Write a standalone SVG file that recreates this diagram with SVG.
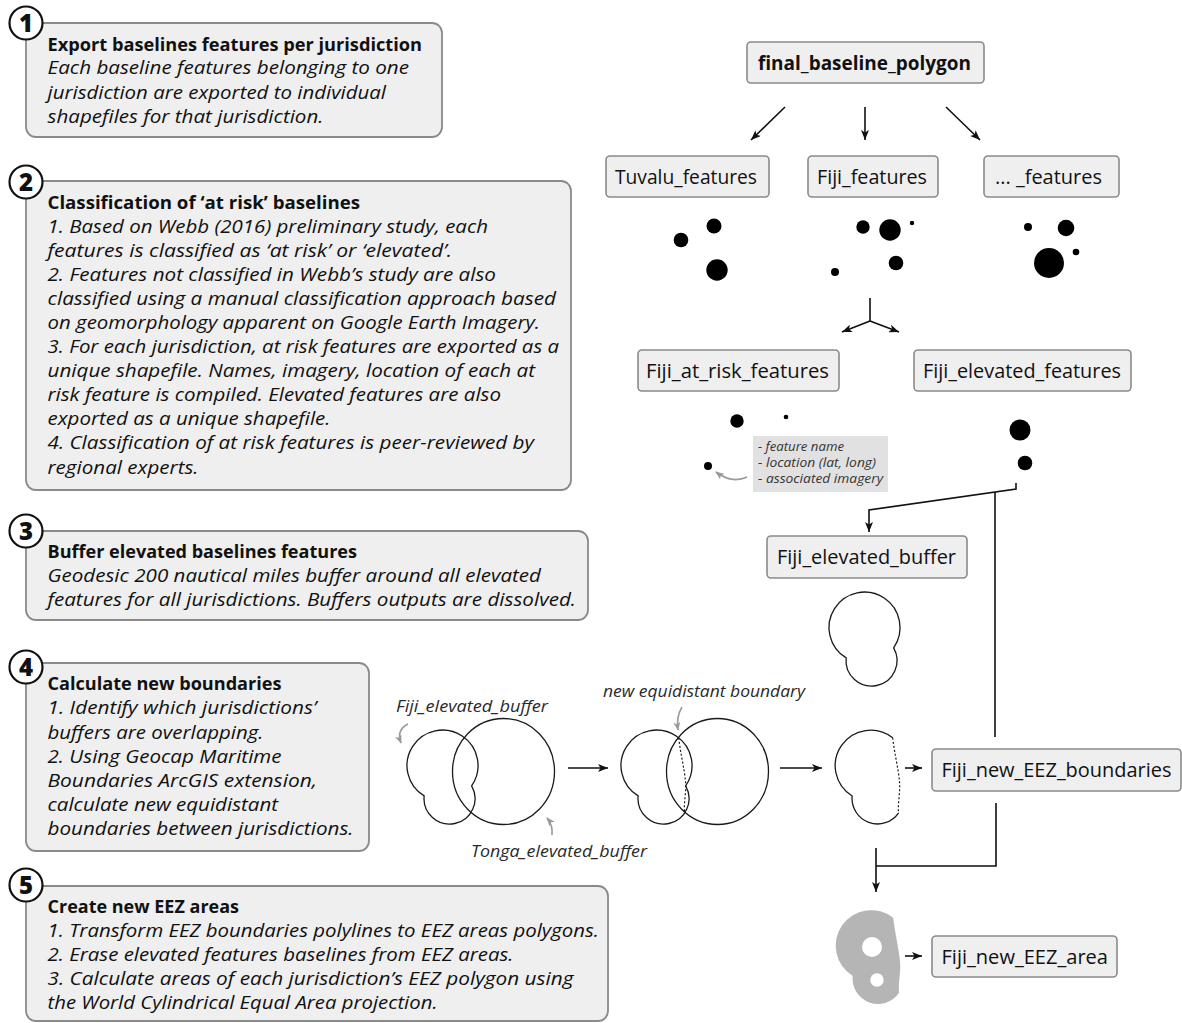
<svg xmlns="http://www.w3.org/2000/svg" width="1182" height="1023" viewBox="0 0 1182 1023">
  <defs>
    <style>
      .step { fill: #efefef; stroke: #8a8a8a; stroke-width: 1.8; }
      .node { fill: #efefef; stroke: #8a8a8a; stroke-width: 1.6; }
      .num-c { fill: #ffffff; stroke: #111111; stroke-width: 2.2; }
      .num { font-family: "Open Sans", "Liberation Sans", sans-serif; font-weight: 800; font-size: 24px; fill: #111111; text-anchor: middle; }
      .ttl { font-family: "Open Sans", "Liberation Sans", sans-serif; font-weight: 700; font-size: 18px; fill: #111111; }
      .txt { font-family: "Open Sans", "Liberation Sans", sans-serif; font-style: italic; font-weight: 500; font-size: 17.5px; fill: #111111; }
      .lbl { font-family: "Open Sans", "Liberation Sans", sans-serif; font-weight: 500; font-size: 20px; fill: #111111; }
      .lblb { font-family: "Open Sans", "Liberation Sans", sans-serif; font-weight: 700; font-size: 19px; fill: #111111; }
      .note { font-family: "Open Sans", "Liberation Sans", sans-serif; font-style: italic; font-size: 15.5px; fill: #2a2a2a; }
      .small { font-family: "Open Sans", "Liberation Sans", sans-serif; font-style: italic; font-size: 12px; fill: #333333; }
      .edge { fill: none; stroke: #111111; stroke-width: 1.6; }
      .hint { fill: none; stroke: #9a9a9a; stroke-width: 1.6; }
      .outline { fill: none; stroke: #1a1a1a; stroke-width: 1.3; }
      .cut { fill: none; stroke: #1a1a1a; stroke-width: 1.2; stroke-dasharray: 2 2; }
      .dot { fill: #000000; }
    </style>
    <marker id="ah" viewBox="0 0 10 8" refX="10" refY="4" markerWidth="10" markerHeight="8" markerUnits="userSpaceOnUse" orient="auto">
      <path d="M0,0 L10,4 L0,8 L2.5,4 Z" fill="#111111"/>
    </marker>
    <marker id="ahg" viewBox="0 0 10 8" refX="9" refY="4" markerWidth="9" markerHeight="7" markerUnits="userSpaceOnUse" orient="auto">
      <path d="M0,0 L10,4 L0,8 L2.5,4 Z" fill="#9a9a9a"/>
    </marker>
  </defs>

  <rect width="1182" height="1023" fill="#ffffff"/>

  <!-- Step 1 -->
  <g id="step1">
    <rect class="step" x="26" y="23" width="416" height="114" rx="10"/>
    <circle class="num-c" cx="26" cy="23" r="16.5"/>
    <text class="num" x="26" y="31.5">1</text>
    <text class="ttl" x="47.5" y="50.5" textLength="374.5" lengthAdjust="spacingAndGlyphs">Export baselines features per jurisdiction</text>
    <text class="txt" x="47.5" y="74" textLength="361.5" lengthAdjust="spacingAndGlyphs">Each baseline features belonging to one</text>
    <text class="txt" x="47.5" y="99" textLength="338.5" lengthAdjust="spacingAndGlyphs">jurisdiction are exported to individual</text>
    <text class="txt" x="47.5" y="123" textLength="276" lengthAdjust="spacingAndGlyphs">shapefiles for that jurisdiction.</text>
  </g>

  <!-- Step 2 -->
  <g id="step2">
    <rect class="step" x="26" y="181" width="545" height="309" rx="10"/>
    <circle class="num-c" cx="26" cy="182" r="16.5"/>
    <text class="num" x="26" y="190.5">2</text>
    <text class="ttl" x="47.5" y="208.5" textLength="312.5" lengthAdjust="spacingAndGlyphs">Classification of ‘at risk’ baselines</text>
    <text class="txt" x="47.5" y="232.5" textLength="440.5" lengthAdjust="spacingAndGlyphs">1. Based on Webb (2016) preliminary study, each</text>
    <text class="txt" x="47.5" y="256.6" textLength="404.5" lengthAdjust="spacingAndGlyphs">features is classified as ‘at risk’ or ‘elevated’.</text>
    <text class="txt" x="47.5" y="280.7" textLength="448.5" lengthAdjust="spacingAndGlyphs">2. Features not classified in Webb’s study are also</text>
    <text class="txt" x="47.5" y="304.8" textLength="508.5" lengthAdjust="spacingAndGlyphs">classified using a manual classification approach based</text>
    <text class="txt" x="47.5" y="328.9" textLength="492.5" lengthAdjust="spacingAndGlyphs">on geomorphology apparent on Google Earth Imagery.</text>
    <text class="txt" x="47.5" y="353" textLength="511.5" lengthAdjust="spacingAndGlyphs">3. For each jurisdiction, at risk features are exported as a</text>
    <text class="txt" x="47.5" y="377.1" textLength="487.5" lengthAdjust="spacingAndGlyphs">unique shapefile. Names, imagery, location of each at</text>
    <text class="txt" x="47.5" y="401.2" textLength="453.5" lengthAdjust="spacingAndGlyphs">risk feature is compiled. Elevated features are also</text>
    <text class="txt" x="47.5" y="425.3" textLength="283" lengthAdjust="spacingAndGlyphs">exported as a unique shapefile.</text>
    <text class="txt" x="47.5" y="449.4" textLength="486.5" lengthAdjust="spacingAndGlyphs">4. Classification of at risk features is peer-reviewed by</text>
    <text class="txt" x="47.5" y="473.5" textLength="151" lengthAdjust="spacingAndGlyphs">regional experts.</text>
  </g>

  <!-- Step 3 -->
  <g id="step3">
    <rect class="step" x="26" y="531" width="562" height="89" rx="10"/>
    <circle class="num-c" cx="26" cy="531" r="16.5"/>
    <text class="num" x="26" y="539.5">3</text>
    <text class="ttl" x="47.5" y="558" textLength="309.5" lengthAdjust="spacingAndGlyphs">Buffer elevated baselines features</text>
    <text class="txt" x="47.5" y="582" textLength="493.5" lengthAdjust="spacingAndGlyphs">Geodesic 200 nautical miles buffer around all elevated</text>
    <text class="txt" x="47.5" y="605.5" textLength="528.5" lengthAdjust="spacingAndGlyphs">features for all jurisdictions. Buffers outputs are dissolved.</text>
  </g>

  <!-- Step 4 -->
  <g id="step4">
    <rect class="step" x="26" y="663" width="343" height="188" rx="10"/>
    <circle class="num-c" cx="26" cy="667" r="16.5"/>
    <text class="num" x="26" y="675.5">4</text>
    <text class="ttl" x="47.5" y="690" textLength="234" lengthAdjust="spacingAndGlyphs">Calculate new boundaries</text>
    <text class="txt" x="47.5" y="714" textLength="269" lengthAdjust="spacingAndGlyphs">1. Identify which jurisdictions’</text>
    <text class="txt" x="47.5" y="738.5" textLength="216" lengthAdjust="spacingAndGlyphs">buffers are overlapping.</text>
    <text class="txt" x="47.5" y="762.5" textLength="234" lengthAdjust="spacingAndGlyphs">2. Using Geocap Maritime</text>
    <text class="txt" x="47.5" y="786.5" textLength="269.5" lengthAdjust="spacingAndGlyphs">Boundaries ArcGIS extension,</text>
    <text class="txt" x="47.5" y="810.5" textLength="230.5" lengthAdjust="spacingAndGlyphs">calculate new equidistant</text>
    <text class="txt" x="47.5" y="834.5" textLength="306" lengthAdjust="spacingAndGlyphs">boundaries between jurisdictions.</text>
  </g>

  <!-- Step 5 -->
  <g id="step5">
    <rect class="step" x="26" y="886" width="582" height="135" rx="10"/>
    <circle class="num-c" cx="26" cy="885" r="16.5"/>
    <text class="num" x="26" y="893.5">5</text>
    <text class="ttl" x="47.5" y="913" textLength="191.5" lengthAdjust="spacingAndGlyphs">Create new EEZ areas</text>
    <text class="txt" x="47.5" y="937" textLength="551.5" lengthAdjust="spacingAndGlyphs">1. Transform EEZ boundaries polylines to EEZ areas polygons.</text>
    <text class="txt" x="47.5" y="961" textLength="466" lengthAdjust="spacingAndGlyphs">2. Erase elevated features baselines from EEZ areas.</text>
    <text class="txt" x="47.5" y="985" textLength="526" lengthAdjust="spacingAndGlyphs">3. Calculate areas of each jurisdiction’s EEZ polygon using</text>
    <text class="txt" x="47.5" y="1008.5" textLength="390" lengthAdjust="spacingAndGlyphs">the World Cylindrical Equal Area projection.</text>
  </g>

  <!-- Data nodes -->
  <g id="final_baseline_polygon">
    <rect class="node" x="747" y="42" width="237" height="41" rx="4"/>
    <text class="lblb" x="758" y="69.5" textLength="213" lengthAdjust="spacingAndGlyphs">final_baseline_polygon</text>
  </g>
  <g id="tuvalu_features">
    <rect class="node" x="606" y="156" width="163" height="41" rx="4"/>
    <text class="lbl" x="615" y="183.5" textLength="142" lengthAdjust="spacingAndGlyphs">Tuvalu_features</text>
    <circle class="dot" cx="681" cy="240" r="7.3"/>
    <circle class="dot" cx="714" cy="226" r="7.5"/>
    <circle class="dot" cx="717" cy="270" r="10.7"/>
  </g>
  <g id="fiji_features">
    <rect class="node" x="808" y="156" width="130" height="41" rx="4"/>
    <text class="lbl" x="817" y="183.5" textLength="110" lengthAdjust="spacingAndGlyphs">Fiji_features</text>
    <circle class="dot" cx="863" cy="227" r="6.7"/>
    <circle class="dot" cx="890" cy="230" r="10.7"/>
    <circle class="dot" cx="912" cy="223" r="2.2"/>
    <circle class="dot" cx="896" cy="263" r="7.3"/>
    <circle class="dot" cx="835" cy="272" r="4"/>
  </g>
  <g id="other_features">
    <rect class="node" x="984" y="156" width="135" height="41" rx="4"/>
    <text class="lbl" x="995" y="183.5" textLength="107" lengthAdjust="spacingAndGlyphs">... _features</text>
    <circle class="dot" cx="1028" cy="227" r="4"/>
    <circle class="dot" cx="1066" cy="228" r="8.3"/>
    <circle class="dot" cx="1049" cy="263" r="15"/>
    <circle class="dot" cx="1076" cy="252" r="3.3"/>
  </g>
  <g id="fiji_at_risk_features">
    <rect class="node" x="638" y="350" width="201" height="41" rx="4"/>
    <text class="lbl" x="646" y="377.5" textLength="183" lengthAdjust="spacingAndGlyphs">Fiji_at_risk_features</text>
    <circle class="dot" cx="737" cy="421" r="6.7"/>
    <circle class="dot" cx="786" cy="417" r="2.3"/>
    <circle class="dot" cx="708" cy="466" r="4"/>
    <rect x="753" y="436" width="135" height="56" fill="#e1e1e1"/>
    <text class="small" x="758" y="451" textLength="86" lengthAdjust="spacingAndGlyphs">- feature name</text>
    <text class="small" x="758" y="467" textLength="118" lengthAdjust="spacingAndGlyphs">- location (lat, long)</text>
    <text class="small" x="758" y="483" textLength="125" lengthAdjust="spacingAndGlyphs">- associated imagery</text>
    <path class="hint" d="M747,477 Q732,484 716,472" marker-end="url(#ahg)"/>
  </g>
  <g id="fiji_elevated_features">
    <rect class="node" x="914" y="350" width="217" height="41" rx="4"/>
    <text class="lbl" x="923" y="377.5" textLength="198" lengthAdjust="spacingAndGlyphs">Fiji_elevated_features</text>
    <circle class="dot" cx="1020" cy="430" r="10.5"/>
    <circle class="dot" cx="1025" cy="463" r="7.3"/>
  </g>
  <g id="fiji_elevated_buffer">
    <rect class="node" x="767" y="536" width="200" height="42" rx="4"/>
    <text class="lbl" x="777" y="564" textLength="179" lengthAdjust="spacingAndGlyphs">Fiji_elevated_buffer</text>
    <path class="outline" d="M846.15,657.93 A35.5,35.5 0 1 1 893.63,647.85 A25.5,25.5 0 1 1 846.15,657.93 Z"/>
  </g>

  <!-- Boundary calculation sketch -->
  <g id="overlap_buffers">
    <path class="outline" d="M424.15,795.93 A35.5,35.5 0 1 1 471.63,785.85 A25.5,25.5 0 1 1 424.15,795.93 Z"/>
    <ellipse class="outline" cx="503.5" cy="771.5" rx="51" ry="53"/>
    <text class="note" x="396" y="712" textLength="152" lengthAdjust="spacingAndGlyphs">Fiji_elevated_buffer</text>
    <text class="note" x="471" y="857" textLength="176" lengthAdjust="spacingAndGlyphs">Tonga_elevated_buffer</text>
    <path class="hint" d="M408,724 Q396,730 401,743" marker-end="url(#ahg)"/>
    <path class="hint" d="M552,835 Q553,825 547,818" marker-end="url(#ahg)"/>
  </g>
  <g id="equidistant_boundary">
    <path class="outline" d="M638.15,795.93 A35.5,35.5 0 1 1 685.63,785.85 A25.5,25.5 0 1 1 638.15,795.93 Z"/>
    <ellipse class="outline" cx="717.5" cy="771.5" rx="51" ry="53"/>
    <path class="cut" d="M678.7,737.8 C680.5,753.5 684.5,769.5 685.5,781.5 C686.5,792.5 683.5,802.5 684.6,812.8"/>
    <text class="note" x="603" y="697" textLength="202" lengthAdjust="spacingAndGlyphs">new equidistant boundary</text>
    <path class="hint" d="M682,707 Q676,717 678,730" marker-end="url(#ahg)"/>
  </g>
  <g id="fiji_cut_buffer">
    <path class="outline" d="M892.7,737.8 A35.5,35.5 0 1 0 852.15,795.93 A25.5,25.5 0 0 0 898.6,812.8"/>
    <path class="cut" d="M892.7,737.8 C894.5,753.5 898.5,769.5 899.5,781.5 C900.5,792.5 897.5,802.5 898.6,812.8"/>
  </g>
  <g id="fiji_new_eez_boundaries">
    <rect class="node" x="932" y="749" width="249" height="42" rx="4"/>
    <text class="lbl" x="941.5" y="777" textLength="230" lengthAdjust="spacingAndGlyphs">Fiji_new_EEZ_boundaries</text>
  </g>
  <g id="fiji_new_eez_area">
    <path d="M893.2,917.8 A35.5,35.5 0 1 0 852.65,975.93 A25.5,25.5 0 0 0 899.1,992.8 C898,982.5 901,972.5 900,961.5 C899,949.5 895,933.5 893.2,917.8 Z" fill="#b5b5b5"/>
    <circle cx="872" cy="947" r="10" fill="#ffffff"/>
    <circle cx="877" cy="980" r="6.7" fill="#ffffff"/>
    <rect class="node" x="932" y="936" width="185" height="41" rx="4"/>
    <text class="lbl" x="941.5" y="963.5" textLength="166.5" lengthAdjust="spacingAndGlyphs">Fiji_new_EEZ_area</text>
  </g>

  <!-- Connectors -->
  <g id="connectors">
    <line class="edge" x1="785" y1="107" x2="751" y2="140" marker-end="url(#ah)"/>
    <line class="edge" x1="865" y1="107" x2="865" y2="140" marker-end="url(#ah)"/>
    <line class="edge" x1="946" y1="107" x2="980" y2="140" marker-end="url(#ah)"/>
    <path class="edge" d="M870,298 V321"/>
    <line class="edge" x1="870" y1="321" x2="842" y2="332" marker-end="url(#ah)"/>
    <line class="edge" x1="870" y1="321" x2="899" y2="332" marker-end="url(#ah)"/>
    <path class="edge" d="M1016,483 V489 L869,510 V532" marker-end="url(#ah)"/>
    <path class="edge" d="M995,492 V737"/>
    <line class="edge" x1="568" y1="768" x2="608" y2="768" marker-end="url(#ah)"/>
    <line class="edge" x1="780" y1="768" x2="822" y2="768" marker-end="url(#ah)"/>
    <line class="edge" x1="905" y1="768" x2="922" y2="768" marker-end="url(#ah)"/>
    <path class="edge" d="M996,803 V866 H876"/>
    <path class="edge" d="M876,848 V892" marker-end="url(#ah)"/>
    <line class="edge" x1="905" y1="956" x2="922" y2="956" marker-end="url(#ah)"/>
  </g>
</svg>
